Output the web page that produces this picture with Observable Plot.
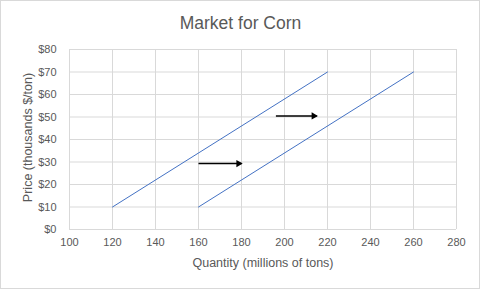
<!DOCTYPE html>
<html>
<head>
<meta charset="utf-8">
<script src="https://cdn.jsdelivr.net/npm/d3@7"></script>
<script src="https://cdn.jsdelivr.net/npm/@observablehq/plot@0.6"></script>
<style>
  html, body { margin: 0; padding: 0; background: #fff; }
  #wrap { position: relative; width: 480px; height: 289px; }
  #border { position: absolute; left: 0; top: 0; width: 480px; height: 289px; box-sizing: border-box; border: 1px solid #d9d9d9; pointer-events: none; }
</style>
</head>
<body>
<div id="wrap"><div id="border"></div></div>
<script>
const title = "Market for Corn";
const xLabel = "Quantity (millions of tons)";
const yLabel = "Price (thousands $/ton)";
const xTicks = [100, 120, 140, 160, 180, 200, 220, 240, 260, 280];
const yTicks = [0, 10, 20, 30, 40, 50, 60, 70, 80];

const lineSeries = ["S1", "S1", "S2", "S2"];
const lineQty = [120, 220, 160, 260];
const linePrice = [10, 70, 10, 70];

const arrowX1 = [160, 196];
const arrowX2 = [180, 215];
const arrowY = [29.3, 50.5];

const lines = lineQty.map((q, i) => ({series: lineSeries[i], q, p: linePrice[i]}));
const arrows = arrowX1.map((x1, i) => ({x1, x2: arrowX2[i], y: arrowY[i]}));

const font = "Liberation Sans, Arial, sans-serif";
const textColor = "#595959";

const chart = Plot.plot({
  width: 480,
  height: 289,
  marginTop: 49,
  marginBottom: 60,
  marginLeft: 69,
  marginRight: 24,
  style: {fontFamily: font, fontSize: "11px", color: textColor, background: "transparent"},
  x: {domain: [100, 280], ticks: xTicks, label: null},
  y: {domain: [0, 80], ticks: yTicks, label: null},
  marks: [
    Plot.gridX(xTicks, {stroke: "#d9d9d9", strokeOpacity: 1}),
    Plot.gridY(yTicks, {stroke: "#d9d9d9", strokeOpacity: 1}),
    Plot.axisX({ticks: xTicks, tickSize: 0, tickPadding: 9, tickFormat: d => String(d), fill: textColor, label: null}),
    Plot.axisY({ticks: yTicks, tickSize: 0, tickPadding: 13, tickFormat: d => "$" + d, fill: textColor, label: null}),
    Plot.line(lines, {x: "q", y: "p", z: "series", stroke: "#4472C4", strokeWidth: 1}),
    Plot.link(arrows, {x1: "x1", x2: "x2", y1: "y", y2: "y", stroke: "#000", strokeWidth: 1.5}),
    Plot.dot(arrows, {x: "x2", y: "y", symbol: "triangle", r: 2.7, rotate: 90, fill: "#000", stroke: null, dx: -3}),
    Plot.text([xLabel], {frameAnchor: "bottom", dy: 37, fontSize: 12.5, fill: textColor}),
    Plot.text([yLabel], {frameAnchor: "left", textAnchor: "middle", dx: -42, dy: -2, rotate: -90, fontSize: 12.5, fill: textColor}),
    Plot.text([title], {frameAnchor: "top", dx: -22.5, dy: -33, fontSize: 17.5, fill: textColor})
  ]
});
document.getElementById("wrap").prepend(chart);
</script>
</body>
</html>
